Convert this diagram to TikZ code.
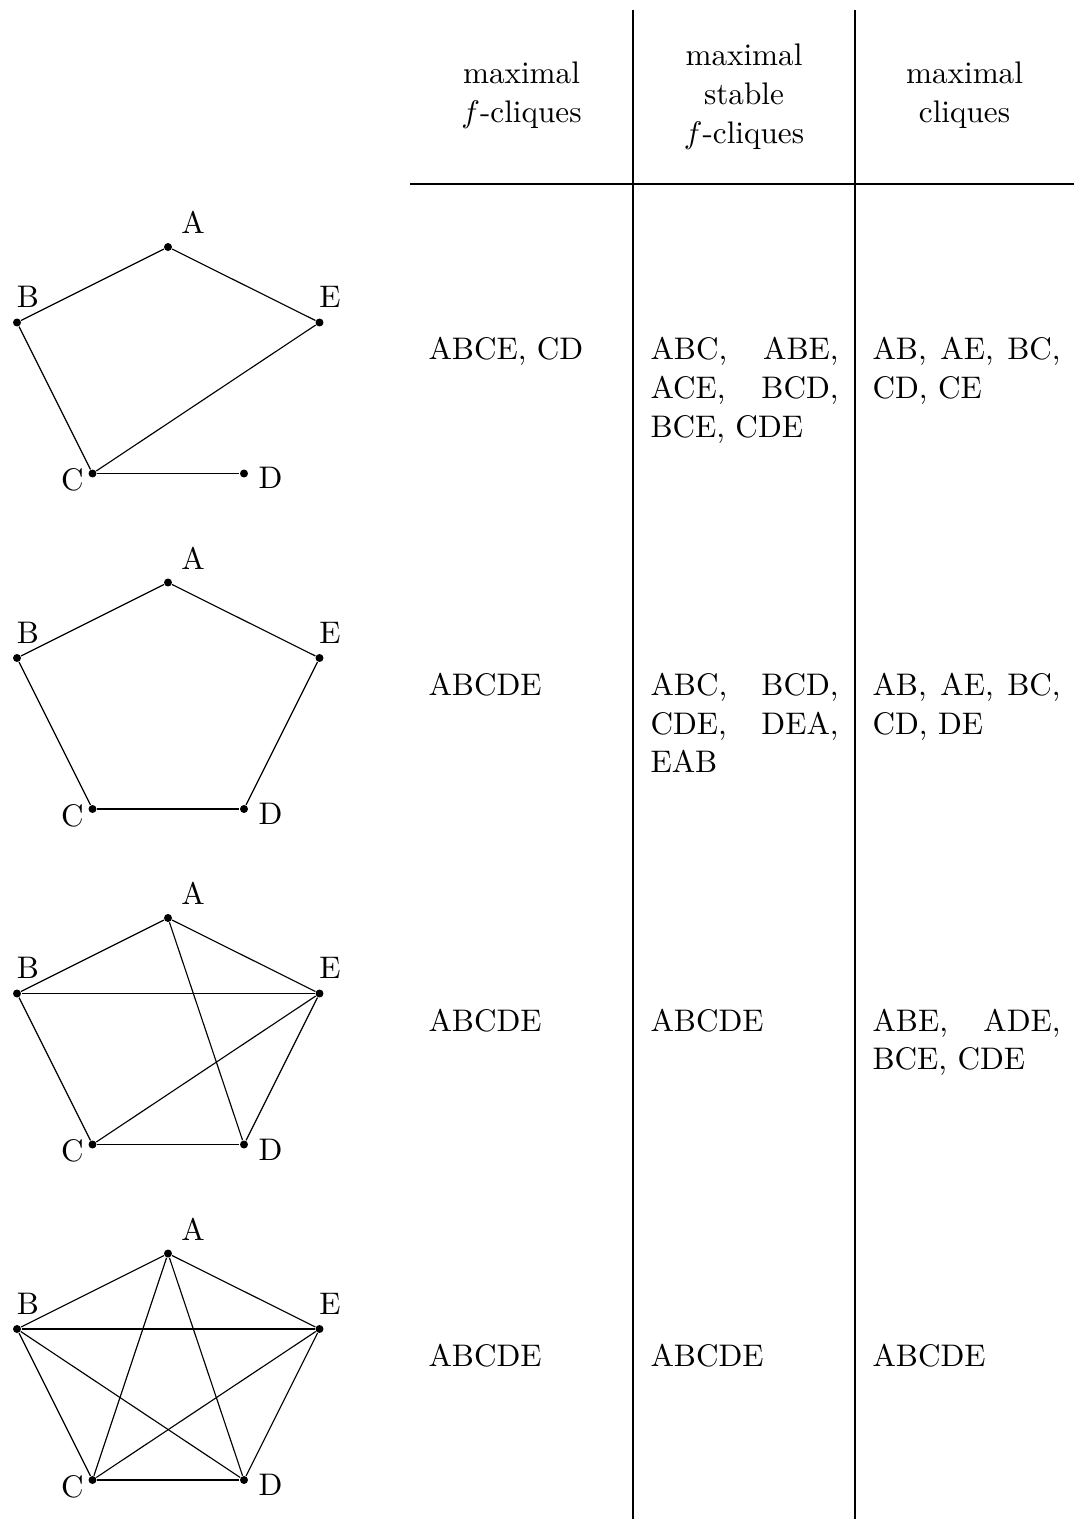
\documentclass[tikz,border=0pt]{standalone}
\usetikzlibrary{positioning}
\tikzstyle{link} = [draw, line width=.4pt]
\tikzstyle{rule} = [draw, line width=.4pt]

\begin{document}
\begin{tikzpicture}[
    x=0.351pt, y=-0.351pt,
    font=\fontsize{10.95pt}{13.6pt}\selectfont,
    vertex/.style={
      circle,
      fill=black,
      inner sep=0pt,
      minimum size=2.8pt
    },
    lbl/.style={
      inner sep=.3333em
    },
    head/.style={
      anchor=base,
      text width=66pt,
      align=center
    },
    cell/.style={
      anchor=base west,
      inner sep=0pt,
      text width=66pt,
      align=justify
    },
    single/.style={
      anchor=base west,
      inner sep=0pt
    }
  ]
  \useasboundingbox (0,0) rectangle (1074,1519);

  % table head
  \node[head] (h1) at (521.5,84) {maximal\\$f$-cliques};
  \node[head] (h2) at (744,66) {maximal\\stable\\$f$-cliques};
  \node[head] (h3) at (964.5,84) {maximal\\cliques};

  \coordinate (ltop) at (633,10);
  \coordinate (lbot) at (633,1519);
  \coordinate (rtop) at (855,10);
  \coordinate (rbot) at (855,1519);
  \coordinate (hleft) at (410,184);
  \coordinate (hright) at (1074,184);
  \draw[rule] (ltop) -- (lbot);
  \draw[rule] (rtop) -- (rbot);
  \draw[rule] (hleft) -- (hright);

  % first graph
  \node[vertex,label={[lbl]above right:A}] (a1) at (168,247) {};
  \node[vertex,label={[lbl,xshift=3.8pt]above:B}] (b1) at (17,322.5) {};
  \node[vertex,label={[lbl,xshift=3.7pt]above:E}] (e1) at (319.5,322.5) {};
  \node[vertex,label={[lbl,xshift=2pt,yshift=-2.3pt]left:C}] (c1) at (92.5,473.5) {};
  \node[vertex,label={[lbl,yshift=-1.7pt]right:D}] (d1) at (244,473.5) {};
  \draw[link] (a1) -- (b1);
  \draw[link] (a1) -- (e1);
  \draw[link] (b1) -- (c1);
  \draw[link] (c1) -- (e1);
  \draw[link] (c1) -- (d1);

  \node[single] (f1) at (428,360) {ABCE, CD};
  \node[cell] (s1) at (650,360) {ABC, ABE, ACE, BCD, BCE, CDE};
  \node[cell] (m1) at (872,360) {AB, AE, BC, CD, CE};

  % second graph
  \node[vertex,label={[lbl]above right:A}] (a2) at (168,582.5) {};
  \node[vertex,label={[lbl,xshift=3.8pt]above:B}] (b2) at (17,658) {};
  \node[vertex,label={[lbl,xshift=3.7pt]above:E}] (e2) at (319.5,658) {};
  \node[vertex,label={[lbl,xshift=2pt,yshift=-2.3pt]left:C}] (c2) at (92.5,809) {};
  \node[vertex,label={[lbl,yshift=-1.7pt]right:D}] (d2) at (244,809) {};
  \draw[link] (a2) -- (b2);
  \draw[link] (b2) -- (c2);
  \draw[link] (c2) -- (d2);
  \draw[link] (d2) -- (e2);
  \draw[link] (e2) -- (a2);

  \node[single] (f2) at (428,695.5) {ABCDE};
  \node[cell] (s2) at (650,695.5) {ABC, BCD, CDE, DEA, EAB};
  \node[cell] (m2) at (872,695.5) {AB, AE, BC, CD, DE};

  % third graph
  \node[vertex,label={[lbl]above right:A}] (a3) at (168,918) {};
  \node[vertex,label={[lbl,xshift=3.8pt]above:B}] (b3) at (17,993.5) {};
  \node[vertex,label={[lbl,xshift=3.7pt]above:E}] (e3) at (319.5,993.5) {};
  \node[vertex,label={[lbl,xshift=2pt,yshift=-2.3pt]left:C}] (c3) at (92.5,1144.5) {};
  \node[vertex,label={[lbl,yshift=-1.7pt]right:D}] (d3) at (244,1144.5) {};
  \draw[link] (a3) -- (b3);
  \draw[link] (a3) -- (e3);
  \draw[link] (a3) -- (d3);
  \draw[link] (b3) -- (e3);
  \draw[link] (b3) -- (c3);
  \draw[link] (c3) -- (e3);
  \draw[link] (c3) -- (d3);
  \draw[link] (d3) -- (e3);

  \node[single] (f3) at (428,1031) {ABCDE};
  \node[single] (s3) at (650,1031) {ABCDE};
  \node[cell] (m3) at (872,1031) {ABE, ADE, BCE, CDE};

  % fourth graph
  \node[vertex,label={[lbl]above right:A}] (a4) at (168,1253.5) {};
  \node[vertex,label={[lbl,xshift=3.8pt]above:B}] (b4) at (17,1329) {};
  \node[vertex,label={[lbl,xshift=3.7pt]above:E}] (e4) at (319.5,1329) {};
  \node[vertex,label={[lbl,xshift=2pt,yshift=-2.3pt]left:C}] (c4) at (92.5,1480) {};
  \node[vertex,label={[lbl,yshift=-1.7pt]right:D}] (d4) at (244,1480) {};
  \draw[link] (a4) -- (b4);
  \draw[link] (a4) -- (c4);
  \draw[link] (a4) -- (d4);
  \draw[link] (a4) -- (e4);
  \draw[link] (b4) -- (c4);
  \draw[link] (b4) -- (d4);
  \draw[link] (b4) -- (e4);
  \draw[link] (c4) -- (d4);
  \draw[link] (c4) -- (e4);
  \draw[link] (d4) -- (e4);

  \node[single] (f4) at (428,1366.5) {ABCDE};
  \node[single] (s4) at (650,1366.5) {ABCDE};
  \node[single] (m4) at (872,1366.5) {ABCDE};

\end{tikzpicture}
\end{document}
